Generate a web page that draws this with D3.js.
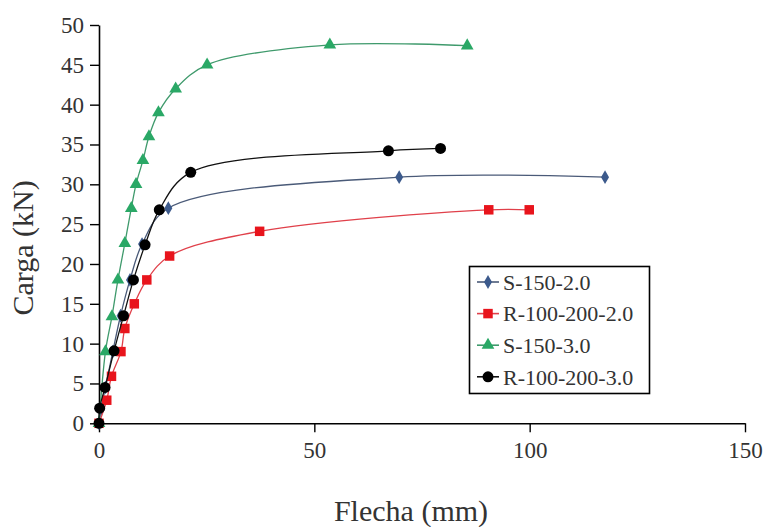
<!DOCTYPE html>
<html>
<head>
<meta charset="utf-8">
<script src="https://cdn.jsdelivr.net/npm/d3@7"></script>
<style>
  html, body { margin: 0; padding: 0; background: #fff; }
  svg { display: block; }
  text { font-family: "Liberation Serif", "Times New Roman", serif; fill: #333; }
</style>
</head>
<body>
<svg id="chart" width="765" height="527"></svg>
<script>
// ---- Data (Flecha mm, Carga kN) ----
const seriesNames = ["S-150-2.0", "R-100-200-2.0", "S-150-3.0", "R-100-200-3.0"];
const s150_20 = [[0,0],[0.5,1.8],[1.5,4.5],[3.2,9],[5,13.5],[7.2,18],[10,22.5],[16.1,27],[69.7,30.9],[117.5,30.9]];
const r100200_20 = [[0,0],[1.8,2.9],[2.9,5.9],[5.1,9],[6,11.9],[8.2,15],[11.1,18],[16.4,21],[37.3,24.1],[90.5,26.8],[99.9,26.8]];
const s150_30 = [[0,0],[1.5,9],[3,13.4],[4.4,18],[6,22.6],[7.5,27],[8.6,30],[10.2,33],[11.6,36],[13.8,39],[17.8,42],[25.1,45],[53.6,47.5],[85.5,47.4]];
const r100200_30 = [[0,0],[0.15,1.9],[1.4,4.5],[3.5,9.1],[5.7,13.5],[8,18],[10.7,22.4],[14,26.8],[21.3,31.5],[67.2,34.2],[79.3,34.5]];
const xTicks = [0, 50, 100, 150];
const yTicks = [0, 5, 10, 15, 20, 25, 30, 35, 40, 45, 50];
const xTitle = "Flecha (mm)";
const yTitle = "Carga (kN)";

const seriesData = [s150_20, r100200_20, s150_30, r100200_30];
const styles = [
  { line: "#4a5a78", fill: "#3c5a8c", shape: d3.symbolDiamond, size: 55 },
  { line: "#e0404a", fill: "#e8141c", shape: d3.symbolSquare, size: 90 },
  { line: "#3f9a6c", fill: "#2aa866", shape: d3.symbolTriangle, size: 70 },
  { line: "#111111", fill: "#000000", shape: d3.symbolCircle, size: 95 }
];

const svg = d3.select("#chart");
const m = { left: 99, top: 25, right: 20, bottom: 104 };
const W = 745 - m.left, H = 423.3 - m.top;

const x = d3.scaleLinear().domain([0, 150]).range([m.left, m.left + W]);
const y = d3.scaleLinear().domain([0, 50]).range([m.top + H, m.top]);

// Axes
const xAxis = svg.append("g")
  .attr("transform", `translate(0,${y(0)})`)
  .call(d3.axisBottom(x).tickValues(xTicks).tickSize(9).tickSizeOuter(0).tickPadding(6));
const yAxis = svg.append("g")
  .attr("transform", `translate(${x(0)},0)`)
  .call(d3.axisLeft(y).tickValues(yTicks).tickSize(9).tickSizeOuter(0).tickPadding(6));

[xAxis, yAxis].forEach(g => {
  g.selectAll("path.domain").attr("stroke", "#000").attr("stroke-width", 1.6);
  g.selectAll(".tick line").attr("stroke", "#000").attr("stroke-width", 1.4);
  g.selectAll(".tick text")
    .style("font-family", '"Liberation Serif", serif')
    .style("font-size", "23px")
    .attr("fill", "#3a3a3a");
});
xAxis.selectAll(".tick text").attr("dy", "0.85em");

// Titles
svg.append("text")
  .attr("x", 411).attr("y", 521)
  .attr("text-anchor", "middle")
  .style("font-size", "30px")
  .attr("fill", "#222")
  .text(xTitle);
svg.append("text")
  .attr("transform", "translate(33,248) rotate(-90)")
  .attr("text-anchor", "middle")
  .style("font-size", "30px")
  .attr("fill", "#222")
  .text(yTitle);

// Lines
const line = d3.line()
  .x(d => x(d[0])).y(d => y(d[1]))
  .curve(d3.curveCatmullRom.alpha(0.5));

seriesData.forEach((data, i) => {
  const st = styles[i];
  const g = svg.append("g");
  g.append("path")
    .datum(data)
    .attr("d", line)
    .attr("fill", "none")
    .attr("stroke", st.line)
    .attr("stroke-width", 1.3);
  g.selectAll("path.mk")
    .data(data)
    .join("path")
    .attr("class", "mk")
    .attr("d", d3.symbol().type(st.shape).size(st.size))
    .attr("transform", d => `translate(${x(d[0])},${y(d[1])})`)
    .attr("fill", st.fill);
});

// Legend
const lg = svg.append("g");
lg.append("rect")
  .attr("x", 469.5).attr("y", 266.5)
  .attr("width", 180).attr("height", 127)
  .attr("fill", "#fff")
  .attr("stroke", "#000")
  .attr("stroke-width", 1.6);
seriesNames.forEach((name, i) => {
  const st = styles[i];
  const cy = 282 + i * 31.6;
  lg.append("line")
    .attr("x1", 477).attr("x2", 499)
    .attr("y1", cy).attr("y2", cy)
    .attr("stroke", st.line).attr("stroke-width", 1.6);
  lg.append("path")
    .attr("d", d3.symbol().type(st.shape).size(st.size)())
    .attr("transform", `translate(488,${cy})`)
    .attr("fill", st.fill);
  lg.append("text")
    .attr("x", 503).attr("y", cy)
    .attr("dy", "0.35em")
    .style("font-size", "22px")
    .attr("fill", "#333")
    .text(name);
});
</script>
</body>
</html>
